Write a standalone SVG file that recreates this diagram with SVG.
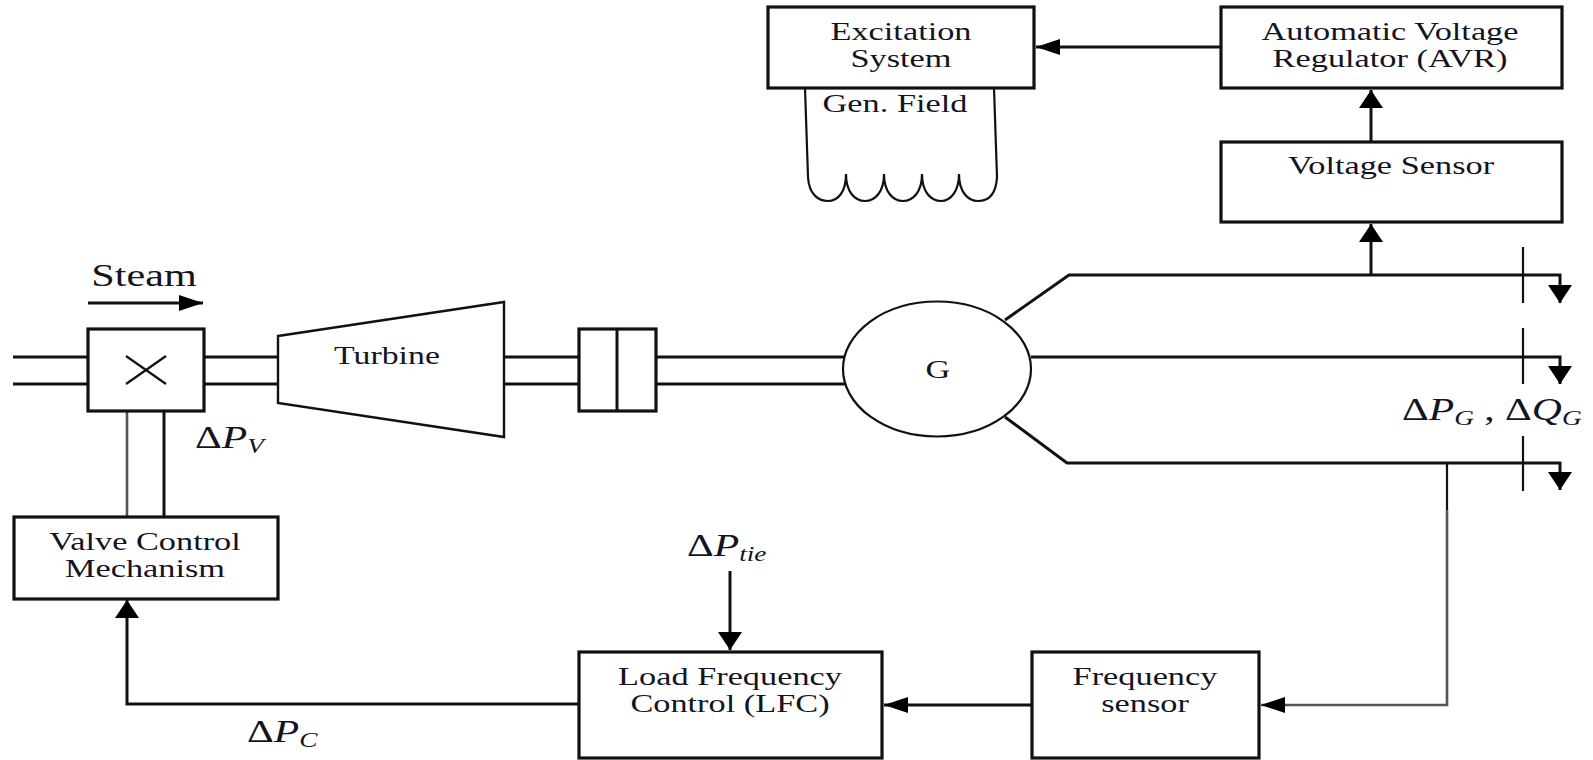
<svg xmlns="http://www.w3.org/2000/svg" width="1593" height="760" viewBox="0 0 1593 760">
<style>
.b{fill:#fff;stroke:#111;stroke-width:3.2}
.c{fill:none;stroke:#111;stroke-width:3}
.t{stroke-width:2.2}
.g{stroke:#555;stroke-width:2.6}
text{font-family:"Liberation Serif","Times New Roman",serif;font-size:26px;fill:#14141f;text-anchor:middle}
.m{font-size:32px;text-anchor:start}
.m .i{font-style:italic}
.m .s{font-style:italic;font-size:21px}
</style>
<defs>
<marker id="ah" markerUnits="userSpaceOnUse" markerWidth="26" markerHeight="20" refX="24" refY="9" orient="auto"><path d="M0 1L24 9L0 17Z" fill="#000"/></marker>
<marker id="av" markerUnits="userSpaceOnUse" markerWidth="19" markerHeight="28" refX="18" refY="13" orient="auto"><path d="M0 1L18 13L0 25Z" fill="#000"/></marker>
</defs>
<rect width="1593" height="760" fill="#fff"/>
<g id="connectors">
<path class="c" d="M13 357H88M13 384H88M204 357H278M204 384H278M504 357H579M504 384H579M656 357H845M656 384H845"/>
<path class="c" marker-end="url(#ah)" d="M88 303H203"/>
<path class="c g" d="M127 411V517"/>
<path class="c" d="M164 411V517"/>
<path class="c" marker-end="url(#av)" d="M579 704H127V600"/>
<path class="c" marker-end="url(#av)" d="M730 571V650"/>
<path class="c" marker-end="url(#ah)" d="M1032 705H884"/>
<path class="c g" marker-end="url(#ah)" d="M1447 510V705H1261"/>
<path class="c t" d="M1447 463V510"/>
<path class="c" marker-end="url(#ah)" d="M1221 47H1036"/>
<path class="c" marker-end="url(#av)" d="M1371 142V90"/>
<path class="c" marker-end="url(#av)" d="M1371 275V224"/>
<path class="c" marker-end="url(#av)" d="M1005 320L1069 275H1560V303"/>
<path class="c" marker-end="url(#av)" d="M1031 357H1560V384"/>
<path class="c" marker-end="url(#av)" d="M1005 417L1067 463H1560V490"/>
<path class="c t" d="M1523 247V303M1523 328V384M1523 436V491"/>
<path class="c t" d="M805 88L808 177C809 196 820 201 828 201C838 201 846 192 846 174C846 192 855 201 865 201C875 201 884 192 884 174C884 192 893 201 903 201C913 201 922 192 922 174C922 192 931 201 941 201C950 201 959 192 959 174C959 192 968 201 978 201C987 201 996 196 997 177L994 88"/>
</g>
<g id="valve"><rect class="b" x="88" y="329" width="116" height="82"/><path class="c t" d="M126 356L166 384M166 356L126 384"/></g>
<g id="turbine"><path class="b t" style="stroke-width:2.4" d="M278 336L504 302V437L278 403Z"/><text transform="translate(387 364) scale(1.3 1)">Turbine</text></g>
<g id="coupling"><rect class="b" x="579" y="329" width="77" height="82"/><path class="c" d="M617 329V411"/></g>
<g id="generator"><ellipse class="b" style="stroke-width:2.2" cx="937" cy="369" rx="94" ry="67.5"/><text transform="translate(938 378) scale(1.32 1)">G</text></g>
<g id="valve-control"><rect class="b" x="14" y="517" width="264" height="82"/><text transform="translate(145 550) scale(1.32 1)">Valve Control</text><text transform="translate(145 577) scale(1.32 1)">Mechanism</text></g>
<g id="lfc"><rect class="b" x="579" y="652" width="303" height="106"/><text transform="translate(730 685) scale(1.32 1)">Load Frequency</text><text transform="translate(730 712) scale(1.32 1)">Control (LFC)</text></g>
<g id="frequency-sensor"><rect class="b" x="1032" y="652" width="227" height="106"/><text transform="translate(1145 685) scale(1.32 1)">Frequency</text><text transform="translate(1145 712) scale(1.32 1)">sensor</text></g>
<g id="excitation"><rect class="b" x="768" y="7" width="266" height="81"/><text transform="translate(901 40) scale(1.32 1)">Excitation</text><text transform="translate(901 67) scale(1.32 1)">System</text></g>
<g id="avr"><rect class="b" x="1221" y="7" width="341" height="81"/><text transform="translate(1390 40) scale(1.32 1)">Automatic Voltage</text><text transform="translate(1390 67) scale(1.32 1)">Regulator (AVR)</text></g>
<g id="voltage-sensor"><rect class="b" x="1221" y="142" width="341" height="80"/><text transform="translate(1391 174) scale(1.32 1)">Voltage Sensor</text></g>
<g id="labels">
<text transform="translate(144 286) scale(1.32 1)" style="font-size:32px">Steam</text>
<text transform="translate(895 112) scale(1.32 1)">Gen. Field</text>
<text class="m" transform="translate(195 448) scale(1.3 1)">Δ<tspan class="i">P</tspan><tspan class="s" dy="5">V</tspan></text>
<text class="m" transform="translate(247 742) scale(1.3 1)">Δ<tspan class="i">P</tspan><tspan class="s" dy="5">C</tspan></text>
<text class="m" transform="translate(687 556) scale(1.3 1)">Δ<tspan class="i">P</tspan><tspan class="s" dy="5">tie</tspan></text>
<text class="m" transform="translate(1402 420) scale(1.3 1)">Δ<tspan class="i">P</tspan><tspan class="s" dy="5">G</tspan><tspan dy="-5"> , Δ</tspan><tspan class="i">Q</tspan><tspan class="s" dy="5">G</tspan></text>
</g>
</svg>
